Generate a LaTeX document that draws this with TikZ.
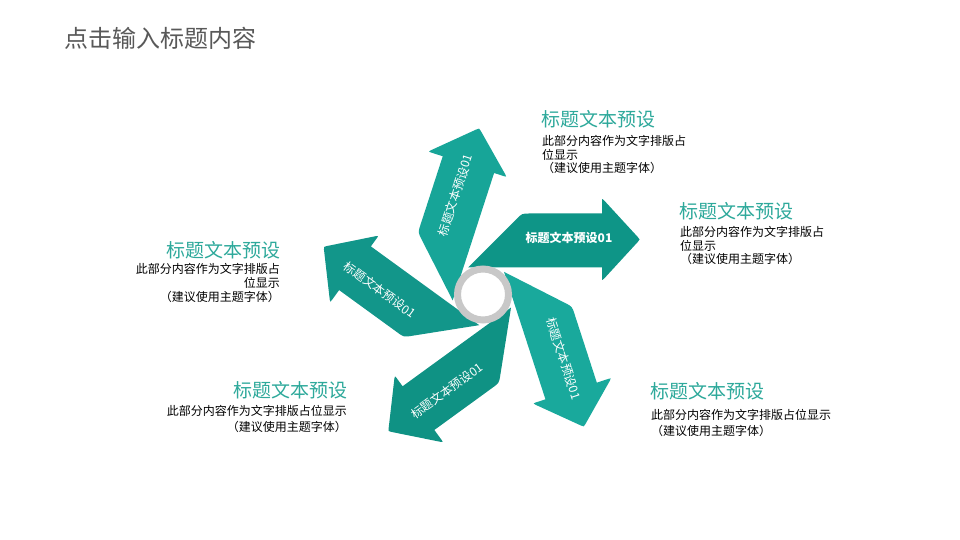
\documentclass[tikz,border=0pt]{standalone}
\usepackage{fontspec}
\setmainfont{Noto Sans CJK SC}
\definecolor{arrA}{HTML}{0E9587}
\definecolor{arrB}{HTML}{17A598}
\definecolor{arrC}{HTML}{12968A}
\definecolor{arrD}{HTML}{0F9284}
\definecolor{arrE}{HTML}{19A99C}
\definecolor{ringgray}{HTML}{C8C8C8}
\definecolor{titleteal}{HTML}{2EA99B}
\definecolor{maingray}{HTML}{595959}
\tikzset{
  headtext/.style={font=\fontsize{19}{19}\selectfont, text=titleteal, inner sep=0pt},
  bodytext/.style={font=\fontsize{12}{12}\selectfont, text=black, inner sep=0pt},
  arrowtext/.style={font=\fontsize{12}{12}\selectfont, text=white, inner sep=0pt},
  arrowbold/.style={font=\fontsize{12}{12}\selectfont\bfseries},
  maintitle/.style={font=\fontsize{24}{24}\selectfont, text=maingray, inner sep=0pt},
}
\newcommand\pinarrow[5]{%
  \begin{scope}[shift={(483,245.5)},rotate=#1]
    \fill[#2] (-15,27) -- (33.3,75.3) .. controls (39,81) .. (47,81) -- (119,81)
      -- (119,93.5) .. controls (119,96) .. (121,94.2)
      -- (155,57.2) .. controls (157,55) .. (155,52.8)
      -- (121,15.8) .. controls (119,14) .. (119,16.5)
      -- (119,27) -- cycle;
    \node[arrowtext,rotate=#3,#5] (#4) at (86,57) {标题文本预设01};
  \end{scope}}
\begin{document}
\begin{tikzpicture}[x=1pt,y=1pt]
\useasboundingbox (0,0) rectangle (960,540);
\fill[white] (0,0) rectangle (960,540);

% main title
\node[maintitle, anchor=base west] (title) at (64,492.3) {点击输入标题内容};

% pinwheel arrows
\pinarrow{0}{arrA}{0}{a1}{arrowbold}
\pinarrow{72}{arrB}{72}{a2}{}
\pinarrow{144}{arrC}{-36}{a3}{}
\pinarrow{216}{arrD}{36}{a4}{}
\pinarrow{288}{arrE}{-72}{a5}{}

% hub ring
\node[circle, draw=ringgray, line width=7pt, fill=white, minimum size=51pt, inner sep=0pt, outer sep=0pt] (hub) at (483,245.5) {};

% block 1 (top right)
\node[headtext, anchor=base west] (h1) at (541,413.8) {标题文本预设};
\node[bodytext, anchor=base west] (b1a) at (542,394.4) {此部分内容作为文字排版占};
\node[bodytext, anchor=base west] (b1b) at (542,380.4) {位显示};
\node[bodytext, anchor=base west] (b1c) at (542,367.4) {（建议使用主题字体）};

% block 2 (right)
\node[headtext, anchor=base west] (h2) at (679,321.8) {标题文本预设};
\node[bodytext, anchor=base west] (b2a) at (680,303.4) {此部分内容作为文字排版占};
\node[bodytext, anchor=base west] (b2b) at (680,289.4) {位显示};
\node[bodytext, anchor=base west] (b2c) at (680,276.4) {（建议使用主题字体）};

% block 3 (left)
\node[headtext, anchor=base east] (h3) at (281,282.8) {标题文本预设};
\node[bodytext, anchor=base east] (b3a) at (280,266.4) {此部分内容作为文字排版占};
\node[bodytext, anchor=base east] (b3b) at (280,252.4) {位显示};
\node[bodytext, anchor=base east] (b3c) at (280,238.4) {（建议使用主题字体）};

% block 4 (bottom left)
\node[headtext, anchor=base east] (h4) at (348,142.8) {标题文本预设};
\node[bodytext, anchor=base east] (b4a) at (347,124.4) {此部分内容作为文字排版占位显示};
\node[bodytext, anchor=base east] (b4b) at (347,108.4) {（建议使用主题字体）};

% block 5 (bottom right)
\node[headtext, anchor=base west] (h5) at (650,141.8) {标题文本预设};
\node[bodytext, anchor=base west] (b5a) at (651,120.4) {此部分内容作为文字排版占位显示};
\node[bodytext, anchor=base west] (b5b) at (651,104.4) {（建议使用主题字体）};
\end{tikzpicture}
\end{document}
